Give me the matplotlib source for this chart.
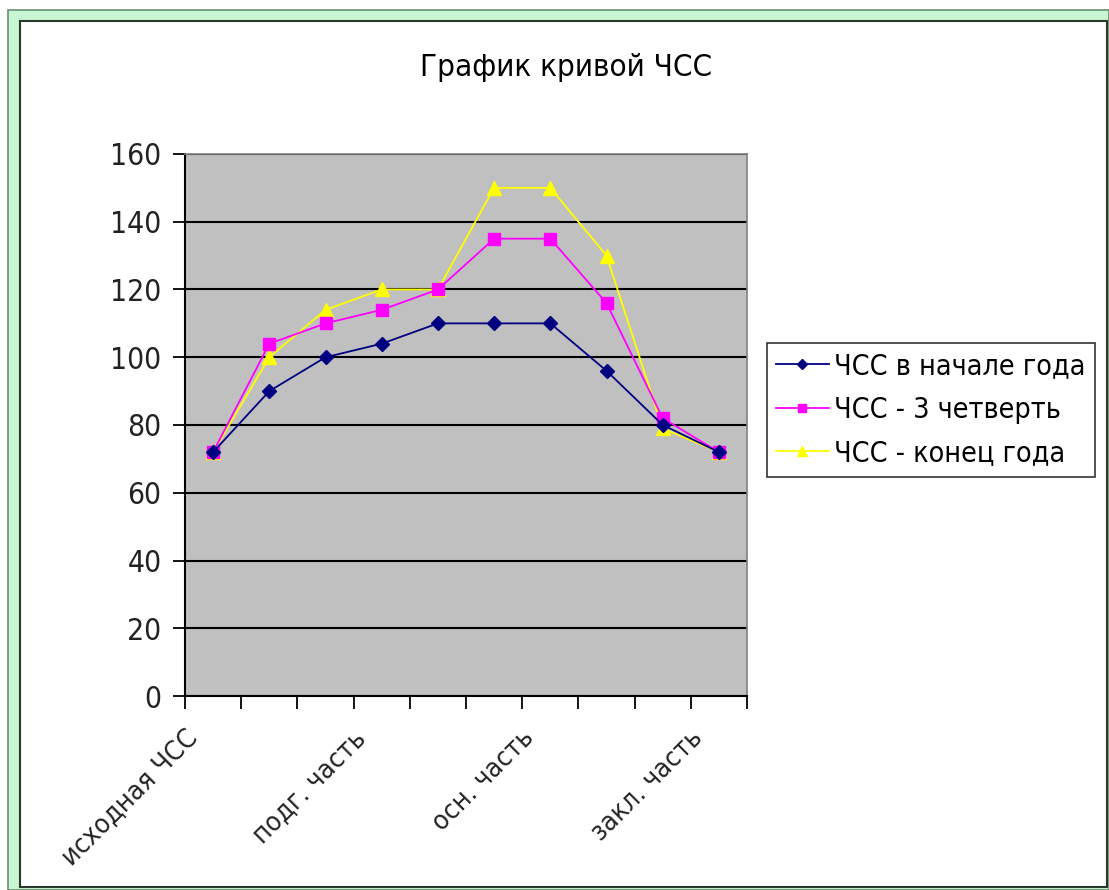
import matplotlib
matplotlib.use("Agg")
import matplotlib.pyplot as plt
from matplotlib.patches import Rectangle
from matplotlib.transforms import ScaledTranslation
import numpy as np

categories = ["исходная ЧСС", "", "", "подг. часть", "", "", "осн. часть", "", "", "закл. часть"]
series_names = ["ЧСС в начале года", "ЧСС - 3 четверть", "ЧСС - конец года"]
start_year = [72, 90, 100, 104, 110, 110, 110, 96, 80, 72]
quarter3 = [72, 104, 110, 114, 120, 135, 135, 116, 82, 72]
end_year = [72, 100, 114, 120, 120, 150, 150, 130, 79, 72]
yticks = [0, 20, 40, 60, 80, 100, 120, 140, 160]

plt.rcParams['font.family'] = ['DejaVu Sans']
plt.rcParams['font.stretch'] = 'condensed'
W, H = 1109, 890
fig = plt.figure(figsize=(W / 100, H / 100), dpi=100)
fig.patch.set_facecolor('white')

# outer green frame
fig.add_artist(Rectangle((8 / W, 1 - 890 / H), (W - 8) / W, (890 - 10) / H, transform=fig.transFigure,
                         facecolor='#c8f5d2', edgecolor='#6a8f70', lw=1.2, zorder=0))
fig.add_artist(Rectangle((20 / W, 1 - 887 / H), (1107 - 20) / W, (887 - 21) / H, transform=fig.transFigure,
                         facecolor='white', edgecolor='#2a3a2a', lw=1.5, zorder=0))

ax = fig.add_axes([185 / W, 1 - 696 / H, (747 - 185) / W, (696 - 154) / H])
ax.set_facecolor('#c0c0c0')
x = np.arange(len(categories))

ax.plot(x, start_year, color='#000080', marker='D', markersize=7, lw=1.3, label=series_names[0], zorder=5)
ax.plot(x, quarter3, color='#ff00ff', marker='s', markersize=9, lw=1.3, label=series_names[1], zorder=4)
ax.plot(x, end_year, color='#ffff00', marker='^', markersize=10, lw=1.3, label=series_names[2], zorder=3)

ax.set_xlim(-0.5, len(categories) - 0.5)
ax.set_ylim(0, 160)
ax.set_yticks(yticks)
ax.set_yticklabels([str(v) for v in yticks], fontsize=21.5, color='#222222')
ax.yaxis.grid(True, color='black', lw=1.5)
ax.set_axisbelow(True)

ax.set_xticks(np.arange(-0.5, len(categories), 1))
ax.set_xticklabels([])
ax.tick_params(axis='x', which='major', length=9, width=1.3, direction='out')
ax.tick_params(axis='y', length=9, width=1.3, direction='out', pad=8)

# category labels (rotated), placed under their category positions
lab_tr = ax.get_xaxis_transform() + ScaledTranslation(-0.29, -0.29, fig.dpi_scale_trans)
for xi, lab in zip(x, categories):
    if lab:
        ax.text(xi, 0, lab, transform=lab_tr, rotation=45, ha='right', va='top',
                rotation_mode='anchor', fontsize=19.5, color='#222222', clip_on=False)

for s in ['left', 'bottom']:
    ax.spines[s].set_color('black')
    ax.spines[s].set_linewidth(1.5)
for s in ['top', 'right']:
    ax.spines[s].set_color('#808080')
    ax.spines[s].set_linewidth(1.2)

fig.text(566 / W, 1 - 67 / H, "График кривой ЧСС", ha='center', va='center',
         fontsize=22.5, color='black')

leg = fig.legend(loc='upper left', bbox_to_anchor=(767 / W, 1 - 343 / H), fontsize=20.5,
                 frameon=True, fancybox=False, borderaxespad=0, handlelength=1.85,
                 handletextpad=0.2, labelspacing=0.55, borderpad=0.32, markerscale=0.7)
leg.get_frame().set_edgecolor('black')
leg.get_frame().set_linewidth(1.2)

fig.savefig('out.png', dpi=100)
